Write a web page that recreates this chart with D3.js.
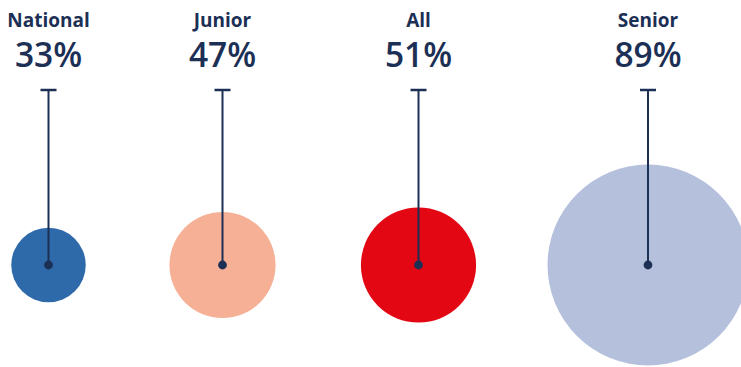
<!DOCTYPE html>
<html>
<head>
<meta charset="utf-8">
<script src="https://cdn.jsdelivr.net/npm/d3@7"></script>
<style>
  html, body { margin: 0; padding: 0; background: #ffffff; }
  svg { display: block; }
  text { font-family: "Open Sans", "Noto Sans", sans-serif; fill: #1c2f55; }
</style>
</head>
<body>
<svg id="chart" width="741" height="367"></svg>
<script>
// Share of each group, in percent
const categories = ["National", "Junior", "All", "Senior"];
const values = [33, 47, 51, 89];
const colors = ["#2e6aaa", "#f6b096", "#e30613", "#b5c0dd"];

// Horizontal slot of each bubble across the row
const slots = [48.5, 222.5, 418.5, 648];

const width = 741, height = 367;
const centerY = 265;
const stemTop = 90;
const ink = "#1c2f55";

const svg = d3.select("#chart");

const x = d3.scaleOrdinal().domain(categories).range(slots);
// Bubble radius grows linearly with the share
const r = d3.scaleLinear().domain([0, 100]).range([0, 112.9]);

const data = categories.map((c, i) => ({ name: c, value: values[i], color: colors[i] }));

const g = svg.selectAll("g.item").data(data).join("g")
  .attr("class", "item")
  .attr("transform", d => `translate(${x(d.name)},0)`);

g.append("circle")
  .attr("cx", 0).attr("cy", centerY)
  .attr("r", d => r(d.value))
  .attr("fill", d => d.color);

g.append("line")
  .attr("x1", 0).attr("x2", 0)
  .attr("y1", stemTop).attr("y2", centerY)
  .attr("stroke", ink).attr("stroke-width", 2);

g.append("line")
  .attr("x1", -8).attr("x2", 8)
  .attr("y1", stemTop).attr("y2", stemTop)
  .attr("stroke", ink).attr("stroke-width", 2.5);

g.append("circle")
  .attr("cx", 0).attr("cy", centerY).attr("r", 4.4)
  .attr("fill", ink);

g.append("text")
  .attr("x", 0).attr("y", 27)
  .attr("text-anchor", "middle")
  .attr("font-size", 19)
  .attr("font-weight", 700)
  .text(d => d.name);

g.append("text")
  .attr("x", 0).attr("y", 67)
  .attr("text-anchor", "middle")
  .attr("font-size", 33.5)
  .attr("font-weight", 600)
  .text(d => d.value + "%");
</script>
</body>
</html>
